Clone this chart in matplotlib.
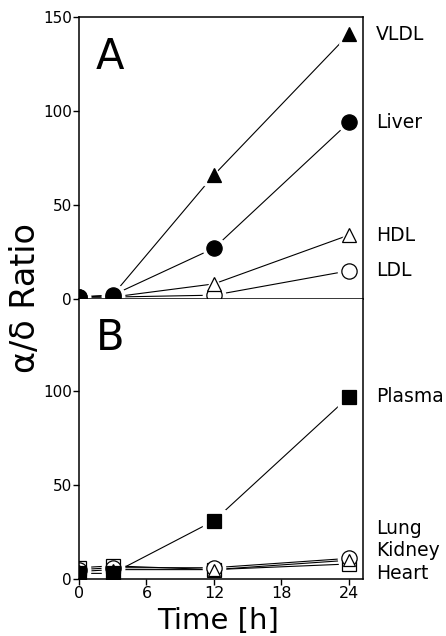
import matplotlib
matplotlib.use("Agg")
import matplotlib.pyplot as plt

time = [0, 3, 12, 24]

# Panel A
vldl = [1, 2, 66, 141]
liver = [1, 2, 27, 94]
hdl = [1, 1, 8, 34]
ldl = [1, 1, 2, 15]

# Panel B
plasma = [3, 3, 31, 97]
lung = [5, 6, 6, 11]
kidney = [4, 5, 5, 10]
heart = [6, 7, 5, 8]

labels_a = ["VLDL", "Liver", "HDL", "LDL"]
labels_b = ["Plasma", "Lung", "Kidney", "Heart"]
label_y_b = [97, 27, 15, 3]

xticks = [0, 6, 12, 18, 24]

plt.rcParams['font.family'] = ['DejaVu Sans']

fig = plt.figure(figsize=(4.46, 6.36), dpi=100)
axA = fig.add_axes([0.177, 0.530, 0.637, 0.443])
axB = fig.add_axes([0.177, 0.0896, 0.637, 0.4404])


def series(ax, y, marker, filled, ms, z):
    ax.plot(time, y, color='black', lw=0.8, zorder=1)
    ax.plot(time, y, linestyle='none', marker=marker, ms=ms + 5,
            markerfacecolor='white', markeredgecolor='white', zorder=2)
    ax.plot(time, y, linestyle='none', marker=marker, ms=ms,
            markerfacecolor='black' if filled else 'white',
            markeredgecolor='black', markeredgewidth=0.9, zorder=z)


series(axA, ldl, 'o', False, 11, 3.0)
series(axA, hdl, '^', False, 10, 3.1)
series(axA, vldl, '^', True, 10, 3.2)
series(axA, liver, 'o', True, 11, 3.3)

series(axB, heart, 's', False, 10, 3.0)
series(axB, lung, 'o', False, 11, 3.1)
series(axB, kidney, '^', False, 9, 3.2)
series(axB, plasma, 's', True, 10.5, 3.3)

for ax in (axA, axB):
    ax.set_xlim(0, 25.25)
    ax.set_ylim(0, 150)
    for s in ax.spines.values():
        s.set_linewidth(1.1)
        s.set_zorder(5)
    ax.tick_params(axis='y', direction='out', length=4, width=1, labelsize=11, pad=1)

axA.set_yticks([0, 50, 100, 150])
axA.set_xticks([])

axB.set_yticks([0, 50, 100])
axB.set_xticks(xticks)
axB.tick_params(axis='x', direction='out', length=4, width=1, labelsize=11.5, pad=1)
axB.spines['top'].set_visible(False)
axB.set_ylim(0, 149)

for lab, y in zip(labels_a, [vldl[-1], liver[-1], hdl[-1], ldl[-1]]):
    axA.text(26.4, y, lab, fontsize=13.5, va='center', ha='left', clip_on=False)
for lab, y in zip(labels_b, label_y_b):
    axB.text(26.4, y, lab, fontsize=13.5, va='center', ha='left', clip_on=False)

axA.text(0.06, 0.86, "A", transform=axA.transAxes, fontsize=30, ha='left', va='center')
axB.text(0.06, 0.86, "B", transform=axB.transAxes, fontsize=30, ha='left', va='center')

fig.text(0.058, 0.531, "α/δ Ratio", rotation=90, fontsize=24, ha='center', va='center')
fig.text(0.488, 0.024, "Time [h]", fontsize=21, ha='center', va='center')

fig.savefig("out.png", dpi=100)
